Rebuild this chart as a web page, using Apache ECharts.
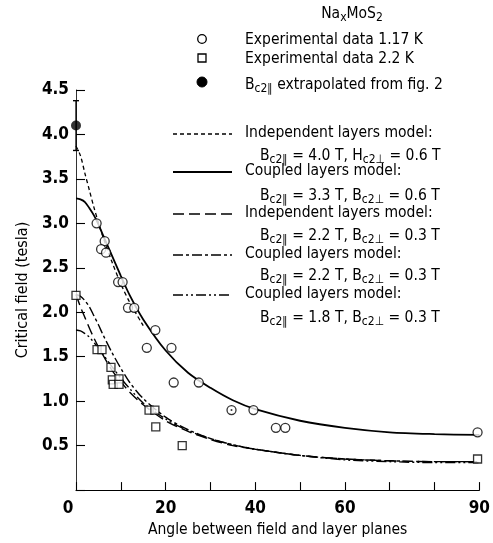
<!DOCTYPE html>
<html><head><meta charset="utf-8">
<script src="https://cdn.jsdelivr.net/npm/echarts@6/dist/echarts.min.js"></script>
<style>html,body{margin:0;padding:0;background:#fff}#c{width:493px;height:543px}</style>
</head><body><div id="c"></div>
<script>
// ---- data ----
const xTickLabels = [0, 20, 40, 60, 90];

// Experimental data 1.17 K (open circles)
const circleAngle = [4.6, 6.4, 5.6, 6.7, 9.4, 10.4, 11.6, 13.0, 17.7, 15.8, 21.3, 21.8, 27.4, 34.7, 39.6, 44.6, 46.7, 89.6];
const circleField = [3.00, 2.80, 2.71, 2.67, 2.34, 2.34, 2.05, 2.05, 1.80, 1.60, 1.60, 1.21, 1.21, 0.90, 0.90, 0.70, 0.70, 0.65];
// dotted circle (circle with centre dot)
const dotAngle = [34.7];
const dotField = [0.90];

// Experimental data 2.2 K (open squares)
const squareAngle = [0, 4.7, 5.8, 7.8, 8.1, 8.3, 9.6, 9.6, 16.3, 17.6, 17.8, 23.7, 89.6];
const squareField = [2.19, 1.58, 1.58, 1.38, 1.24, 1.19, 1.25, 1.19, 0.90, 0.90, 0.71, 0.50, 0.35];

// Bc2|| extrapolated from fig. 2 (filled circle + error bar)
const extrapAngle = [0];
const extrapField = [4.10];
const extrapErrLow = [3.82];
const extrapErrHigh = [4.38];

// model curves
const curveAngle = [0, 1, 2, 3, 4, 5, 6, 8, 10, 12, 15, 20, 25, 30, 35, 40, 50, 60, 70, 80, 90];
const coupled33 = [3.28, 3.27, 3.24, 3.17, 3.09, 2.99, 2.87, 2.64, 2.41, 2.19, 1.92, 1.57, 1.32, 1.15, 1.01, 0.91, 0.78, 0.70, 0.65, 0.63, 0.62];
const indep22 = [2.20, 2.06, 1.94, 1.82, 1.71, 1.61, 1.52, 1.35, 1.22, 1.10, 0.96, 0.78, 0.66, 0.57, 0.50, 0.46, 0.39, 0.35, 0.33, 0.32, 0.32];
const coupled22 = [2.20, 2.18, 2.13, 2.06, 1.96, 1.86, 1.75, 1.55, 1.37, 1.21, 1.03, 0.82, 0.68, 0.58, 0.51, 0.46, 0.39, 0.35, 0.33, 0.32, 0.32];
const coupled18 = [1.80, 1.79, 1.76, 1.72, 1.66, 1.60, 1.53, 1.39, 1.26, 1.14, 0.98, 0.80, 0.67, 0.58, 0.51, 0.46, 0.39, 0.34, 0.32, 0.31, 0.31];
const indep40Angle = [0, 1, 2, 3, 4, 5, 6, 8, 10, 12, 15];
const indep40 = [3.87, 3.76, 3.56, 3.37, 3.18, 3.01, 2.85, 2.57, 2.32, 2.11, 1.85];

// texts
const titleText = '{n|Na}{s|x}{n|MoS}{s|2}';
const markerLegend = ['Experimental data 1.17 K', 'Experimental data 2.2 K', '{n|B}{s|c2∥}{n| extrapolated from fig. 2}'];
const modelLegend = [
  ['Independent layers model:', '{n|B}{s|c2∥}{n| = 4.0 T, H}{s|c2⊥}{n| = 0.6 T}'],
  ['Coupled layers model:', '{n|B}{s|c2∥}{n| = 3.3 T, B}{s|c2⊥}{n| = 0.6 T}'],
  ['Independent layers model:', '{n|B}{s|c2∥}{n| = 2.2 T, B}{s|c2⊥}{n| = 0.3 T}'],
  ['Coupled layers model:', '{n|B}{s|c2∥}{n| = 2.2 T, B}{s|c2⊥}{n| = 0.3 T}'],
  ['Coupled layers model:', '{n|B}{s|c2∥}{n| = 1.8 T, B}{s|c2⊥}{n| = 0.3 T}']
];

// ---- styling ----
const FONT = "'Liberation Sans Narrow','DejaVu Sans Condensed','Noto Sans',sans-serif";
const INK = '#000';
const dashes = {
  solid: 'solid',
  dash: [4, 3],
  longdash: [11, 5],
  dashdot: [10, 3, 3, 3],
  dashdotdot: [10, 3, 2, 3, 2, 3]
};
const modelStyles = [dashes.dash, dashes.solid, dashes.longdash, dashes.dashdot, dashes.dashdotdot];
const modelWidths = [1.3, 1.8, 1.4, 1.4, 1.4];

const zip = (a, b) => a.map((v, i) => [v, b[i]]);
const rich = {
  n: {fontFamily: FONT, fontSize: 15.5, lineHeight: 18, verticalAlign: 'top', color: INK},
  s: {fontFamily: FONT, fontSize: 12, lineHeight: 12, padding: [9, 0, 0, 0], verticalAlign: 'bottom', color: INK}
};

function lineSeries(data, type, width) {
  return {
    type: 'line', data: data, showSymbol: false, smooth: 0.3,
    lineStyle: {color: INK, width: width, type: type}, z: 2, silent: true, clip: false
  };
}

// ---- legend graphics ----
const g = [];
g.push({type: 'text', style: {text: titleText, rich: rich, x: 352, y: 15, align: 'center', verticalAlign: 'middle'}});
const mkY = [39, 58, 82];
g.push({type: 'circle', shape: {cx: 202, cy: mkY[0], r: 4.3}, style: {fill: '#fff', stroke: INK, lineWidth: 1.3}});
g.push({type: 'rect', shape: {x: 198, y: mkY[1] - 4, width: 8, height: 8}, style: {fill: '#fff', stroke: INK, lineWidth: 1.3}});
g.push({type: 'circle', shape: {cx: 202, cy: mkY[2], r: 5}, style: {fill: INK, stroke: INK}});
markerLegend.forEach((t, i) => {
  g.push({type: 'text', style: {text: i < 2 ? '{n|' + t + '}' : t, rich: rich, x: 245, y: mkY[i] + (i < 2 ? 2 : 4), align: 'left', verticalAlign: 'middle'}});
});
const lgY = [134, 172, 214, 255, 295];
const subY = [155, 195, 235, 275, 317];
modelLegend.forEach((pair, i) => {
  g.push({type: 'line', shape: {x1: 173, y1: lgY[i], x2: 232, y2: lgY[i]},
    style: {stroke: INK, lineWidth: modelWidths[i], lineDash: modelStyles[i] === 'solid' ? null : modelStyles[i]}});
  g.push({type: 'text', style: {text: '{n|' + pair[0] + '}', rich: rich, x: 245, y: lgY[i], align: 'left', verticalAlign: 'middle'}});
  g.push({type: 'text', style: {text: pair[1], rich: rich, x: 260, y: subY[i] + 2, align: 'left', verticalAlign: 'middle'}});
});

const chart = echarts.init(document.getElementById('c'), null, {renderer: 'canvas'});
chart.setOption({
  animation: false,
  backgroundColor: '#fff',
  grid: {left: 76, right: 12, top: 90, bottom: 52, containLabel: false},
  xAxis: {
    type: 'value', min: 0, max: 90, interval: 10,
    name: 'Angle between field and layer planes', nameLocation: 'middle', nameGap: 31,
    nameTextStyle: {fontFamily: FONT, fontSize: 15.5, color: INK},
    axisLine: {show: true, lineStyle: {color: INK, width: 1.2}},
    axisTick: {show: true, inside: true, length: 8, lineStyle: {color: INK, width: 1.1}},
    axisLabel: {fontFamily: FONT, fontSize: 17, fontWeight: 'bold', color: INK, margin: 10,
      formatter: v => v === 0 ? '{z|0}' : (xTickLabels.indexOf(v) >= 0 ? String(v) : ''),
      rich: {z: {fontFamily: FONT, fontSize: 17, fontWeight: 'bold', color: INK, padding: [0, 16, 0, 0]}}},
    splitLine: {show: false}
  },
  yAxis: {
    type: 'value', min: 0, max: 4.5, interval: 0.5,
    name: 'Critical field (tesla)', nameLocation: 'middle', nameGap: 41,
    nameTextStyle: {fontFamily: FONT, fontSize: 16, color: INK},
    axisLine: {show: true, lineStyle: {color: '#333', width: 1}},
    axisTick: {show: true, inside: true, length: 9, lineStyle: {color: INK, width: 1.1}},
    axisLabel: {fontFamily: FONT, fontSize: 17, fontWeight: 'bold', color: INK, margin: 7,
      formatter: v => v === 0 ? '' : v.toFixed(1)},
    splitLine: {show: false}
  },
  graphic: g,
  series: [
    lineSeries(zip(curveAngle, coupled33), modelStyles[1], modelWidths[1]),
    lineSeries(zip(indep40Angle, indep40), modelStyles[0], modelWidths[0]),
    lineSeries(zip(curveAngle, indep22), modelStyles[2], modelWidths[2]),
    lineSeries(zip(curveAngle, coupled22), modelStyles[3], modelWidths[3]),
    lineSeries(zip(curveAngle, coupled18), modelStyles[4], modelWidths[4]),
    {type: 'line', data: [[extrapAngle[0], extrapErrLow[0]], [extrapAngle[0], extrapErrHigh[0]]],
      symbol: 'rect', symbolSize: [6, 1.4], showSymbol: true, clip: false,
      lineStyle: {color: INK, width: 1.3}, itemStyle: {color: INK}, z: 3, silent: true},
    {type: 'scatter', data: zip(circleAngle, circleField), symbol: 'circle', symbolSize: 9, clip: false,
      itemStyle: {color: '#fff', borderColor: INK, borderWidth: 1.3}, z: 5, silent: true},
    {type: 'scatter', data: zip(dotAngle, dotField), symbol: 'circle', symbolSize: 2, clip: false,
      itemStyle: {color: INK}, z: 6, silent: true},
    {type: 'scatter', data: zip(squareAngle, squareField), symbol: 'rect', symbolSize: 8, clip: false,
      itemStyle: {color: '#fff', borderColor: INK, borderWidth: 1.3}, z: 5, silent: true},
    {type: 'scatter', data: zip(extrapAngle, extrapField), symbol: 'circle', symbolSize: 10, clip: false,
      itemStyle: {color: INK}, z: 6, silent: true}
  ]
});
</script>
</body></html>
